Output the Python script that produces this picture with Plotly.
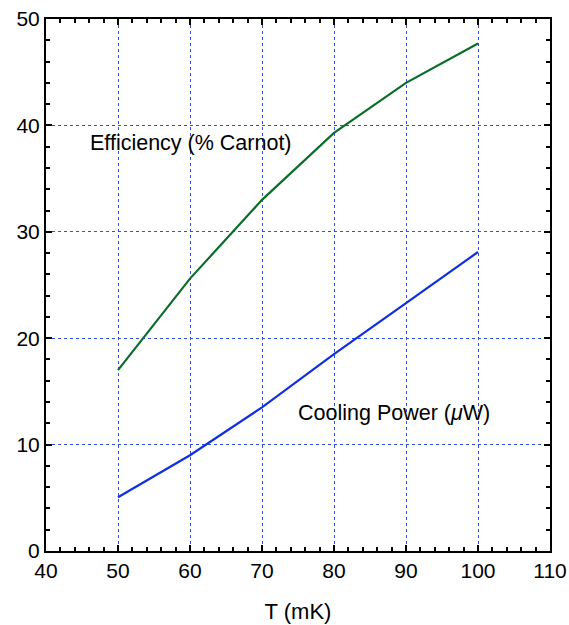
import plotly.graph_objects as go

# Temperature (mK)
temperature = [50, 60, 70, 80, 90, 100]
# Efficiency as a percentage of Carnot
efficiency = [17.0, 25.6, 33.0, 39.3, 44.0, 47.7]
# Cooling power in microwatts
cooling_power = [5.05, 9.0, 13.5, 18.5, 23.3, 28.1]

x_ticks = [40, 50, 60, 70, 80, 90, 100, 110]
y_ticks = [0, 10, 20, 30, 40, 50]

FONT = "Liberation Sans, Arial, Helvetica, sans-serif"

fig = go.Figure()
fig.add_trace(go.Scatter(x=temperature, y=efficiency, mode="lines",
                         line=dict(color="#0a6e2a", width=2.2), showlegend=False))
fig.add_trace(go.Scatter(x=temperature, y=cooling_power, mode="lines",
                         line=dict(color="#1030e0", width=2.2), showlegend=False))

fig.add_annotation(x=45.8, y=38.3, text="Efficiency (% Carnot)", showarrow=False,
                   xanchor="left", yanchor="middle", font=dict(size=21.5, color="black", family=FONT))
fig.add_annotation(x=74.7, y=13.0, text="Cooling Power (<i>μ</i>W)", showarrow=False,
                   xanchor="left", yanchor="middle", font=dict(size=21.5, color="black", family=FONT))

axis_common = dict(
    showline=True, linecolor="black", linewidth=2, mirror="allticks",
    ticks="inside", ticklen=6, tickwidth=1.5, tickcolor="black",
    showgrid=True, gridcolor="#3050e0", gridwidth=1, griddash="dot",
    zeroline=False, automargin=False,
    tickfont=dict(size=21, color="black", family=FONT),
)

fig.update_xaxes(range=[40, 110], tickvals=x_ticks, ticktext=[str(v) for v in x_ticks],
                 minor=dict(dtick=2, tick0=40, ticks="inside", ticklen=4, tickcolor="black", showgrid=False),
                 title=dict(text="T (mK)", font=dict(size=22, color="black", family=FONT), standoff=22),
                 **axis_common)
fig.update_yaxes(range=[0, 50], tickvals=y_ticks, ticktext=[str(v) for v in y_ticks],
                 minor=dict(dtick=2, tick0=0, ticks="inside", ticklen=4, tickcolor="black", showgrid=False),
                 **axis_common)

fig.update_layout(
    width=569, height=625,
    margin=dict(l=46, r=19, t=19, b=74),
    paper_bgcolor="white", plot_bgcolor="white",
    font=dict(family=FONT, color="black"),
)

fig.write_html("out.html")
